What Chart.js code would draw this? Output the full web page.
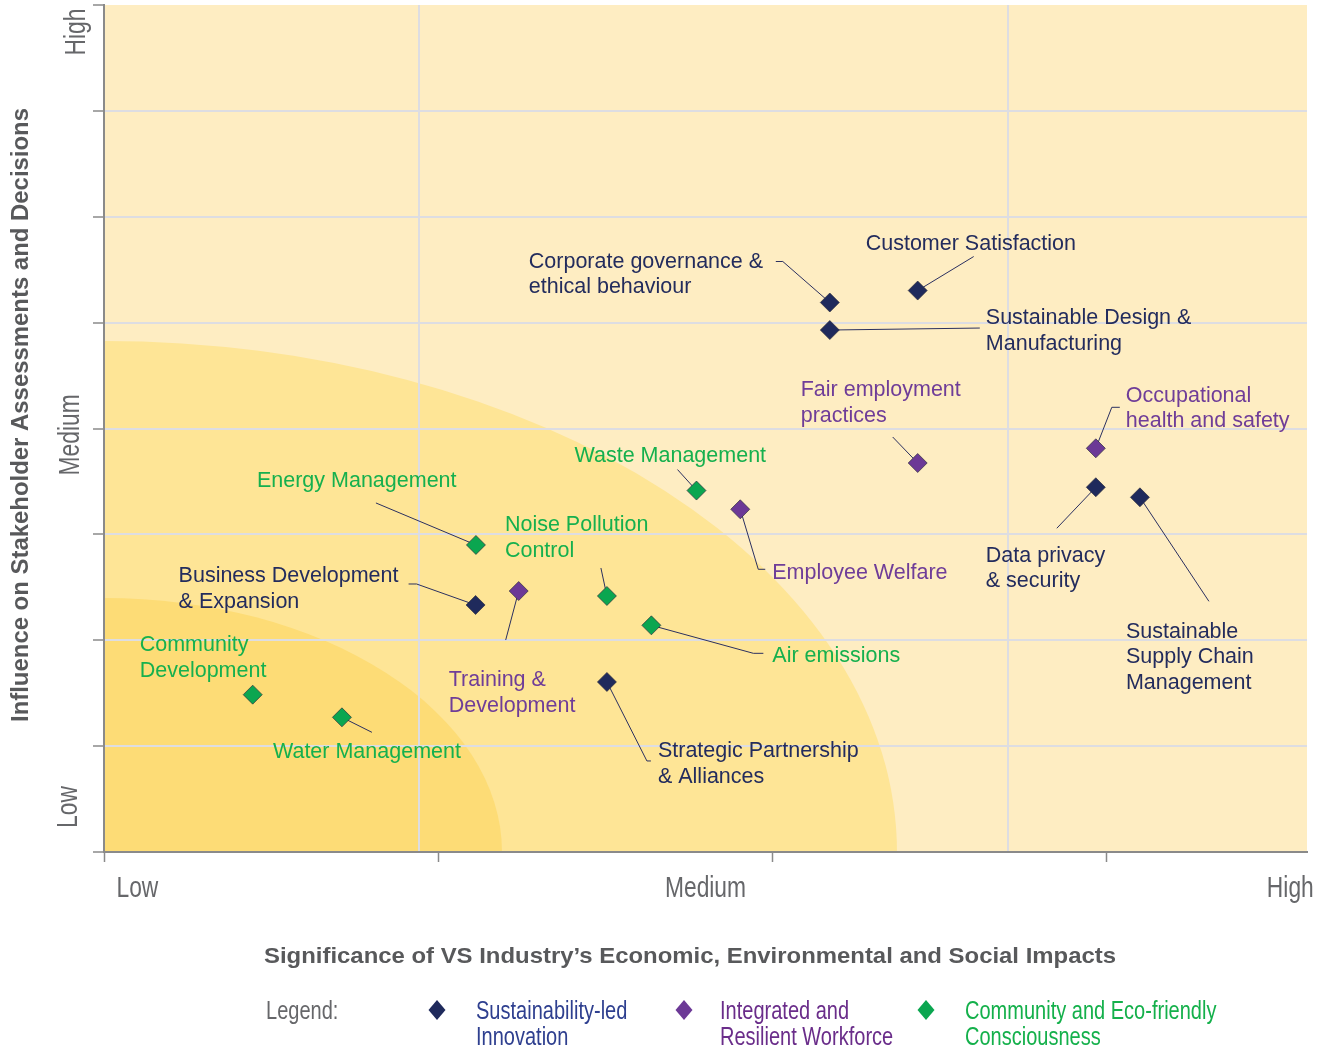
<!DOCTYPE html>
<html>
<head>
<meta charset="utf-8">
<script src="https://cdn.jsdelivr.net/npm/chart.js@4.4.1/dist/chart.umd.min.js"></script>
<style>
  html, body { margin: 0; padding: 0; background: #fff; }
  #wrap { width: 1323px; height: 1049px; position: relative; }
</style>
</head>
<body>
<div id="wrap"><canvas id="materiality"></canvas></div>
<script>
// --- data (x: significance 0..3.6, y: influence 0..8) ---
const innovationNames = ['Corporate governance &\nethical behaviour', 'Customer Satisfaction', 'Sustainable Design &\nManufacturing',
  'Data privacy\n& security', 'Sustainable\nSupply Chain\nManagement', 'Business Development\n& Expansion', 'Strategic Partnership\n& Alliances'];
const innovationX = [2.172, 2.435, 2.172, 2.968, 3.100, 1.112, 1.505];
const innovationY = [5.190, 5.303, 4.930, 3.445, 3.350, 2.333, 1.606];

const workforceNames = ['Fair employment\npractices', 'Occupational\nhealth and safety', 'Employee Welfare', 'Training &\nDevelopment'];
const workforceX = [2.435, 2.968, 1.904, 1.241];
const workforceY = [3.674, 3.813, 3.237, 2.465];

const communityNames = ['Waste Management', 'Energy Management', 'Noise Pollution\nControl', 'Air emissions', 'Community\nDevelopment', 'Water Management'];
const communityX = [1.773, 1.113, 1.505, 1.638, 0.445, 0.712];
const communityY = [3.414, 2.900, 2.418, 2.141, 1.486, 1.272];

const groupNames = ['Sustainability-led\nInnovation', 'Integrated and\nResilient Workforce', 'Community and Eco-friendly\nConsciousness'];
const tickLabels = ['Low', 'Medium', 'High'];
const xLabelValues = [0.1, 1.8, 3.55];
const yLabelValues = [0.425, 3.94, 7.745];
const xGridValues = [0.943, 2.705];
const zoneRadiusX = [2.373, 1.191];
const zoneRadiusY = [4.826, 2.399];

const xTitle = 'Significance of VS Industry\u2019s Economic, Environmental and Social Impacts';
const yTitle = 'Influence on Stakeholder Assessments and Decisions';

// --- styling ---
const markColors = ['#1f2a5c', '#6c3996', '#0ba650'];
const textColors = ['#232c5d', '#6f3d98', '#16b04e'];
const legendColors = ['#2e3f8f', '#6a2d8a', '#14b04b'];
const zoneColors = ['#feedc2', '#fee596', '#fddc76'];
const gridColor = '#dddde2';
const axisColor = '#8a8a8a';
const greyText = '#66676a';
const SANS = '"Liberation Sans", Arial, Helvetica, sans-serif';
const yLabelBaseX = [77, 79, 85];

// label placement relative to the point: text left / first line centre, leader polyline
const labelLayout = {
  'Corporate governance &\nethical behaviour': { dx: -301, dy: -42, leader: [[-47, -41], [-54, -41]] },
  'Customer Satisfaction': { dx: -52, dy: -48, leader: [[56, -34]] },
  'Sustainable Design &\nManufacturing': { dx: 156, dy: -13, leader: [[150, -2]] },
  'Data privacy\n& security': { dx: -110, dy: 67, leader: [[-39, 41]] },
  'Sustainable\nSupply Chain\nManagement': { dx: -14, dy: 133, leader: [[69, 104]] },
  'Business Development\n& Expansion': { dx: -297, dy: -30, leader: [[-59, -21], [-67, -21]] },
  'Strategic Partnership\n& Alliances': { dx: 51, dy: 68, leader: [[40, 79], [44, 79]] },
  'Fair employment\npractices': { dx: -117, dy: -74, leader: [[-25, -26]] },
  'Occupational\nhealth and safety': { dx: 30, dy: -54, leader: [[16, -41], [24, -41]] },
  'Employee Welfare': { dx: 32, dy: 62, leader: [[18, 60], [25, 60]] },
  'Training &\nDevelopment': { dx: -70, dy: 88, leader: [[-13, 49]] },
  'Waste Management': { dx: -122, dy: -36, leader: [[-19, -21]] },
  'Energy Management': { dx: -219, dy: -65, leader: [[-100, -42]] },
  'Noise Pollution\nControl': { dx: -102, dy: -72, leader: [[-6, -28]] },
  'Air emissions': { dx: 121, dy: 29, leader: [[102, 28], [112, 28]] },
  'Community\nDevelopment': { dx: -113, dy: -51, leader: [] },
  'Water Management': { dx: -69, dy: 33, leader: [[30, 15]] }
};

function toPoints(xs, ys) {
  return xs.map((v, i) => ({ x: v, y: ys[i] }));
}

const groups = [
  { names: innovationNames, pts: toPoints(innovationX, innovationY) },
  { names: workforceNames, pts: toPoints(workforceX, workforceY) },
  { names: communityNames, pts: toPoints(communityX, communityY) }
];

function squeezeText(ctx, text, x, y, font, color, align, sx, rot) {
  ctx.save();
  ctx.font = font;
  ctx.fillStyle = color;
  ctx.textAlign = align;
  ctx.textBaseline = 'alphabetic';
  ctx.translate(x, y);
  if (rot) ctx.rotate(rot);
  ctx.scale(sx, 1);
  ctx.fillText(text, 0, 0);
  ctx.restore();
}

function fitText(ctx, text, x, y, font, color, width, rot) {
  ctx.save();
  ctx.font = font;
  const sx = width / ctx.measureText(text).width;
  ctx.restore();
  squeezeText(ctx, text, x, y, font, color, 'center', sx, rot);
}

function diamond(ctx, x, y, w, h, color) {
  ctx.beginPath();
  ctx.moveTo(x, y - h);
  ctx.lineTo(x + w, y);
  ctx.lineTo(x, y + h);
  ctx.lineTo(x - w, y);
  ctx.closePath();
  ctx.fillStyle = color;
  ctx.fill();
}

const matrixPlugin = {
  id: 'matrix',
  beforeDraw(chart) {
    const { ctx, chartArea: a, scales: { x, y } } = chart;
    ctx.save();
    ctx.beginPath();
    ctx.rect(a.left, a.top, a.width, a.height);
    ctx.clip();
    ctx.fillStyle = zoneColors[0];
    ctx.fillRect(a.left, a.top, a.width, a.height);
    const x0 = x.getPixelForValue(0), y0 = y.getPixelForValue(0);
    zoneRadiusX.forEach((r, i) => {
      const rx = x.getPixelForValue(r) - x0;
      const ry = y0 - y.getPixelForValue(zoneRadiusY[i]);
      ctx.beginPath();
      ctx.moveTo(x0, y0);
      ctx.ellipse(x0, y0, rx, ry, 0, -Math.PI / 2, 0);
      ctx.closePath();
      ctx.fillStyle = zoneColors[i + 1];
      ctx.fill();
    });
    ctx.restore();
  },
  beforeDatasetsDraw(chart) {
    const { ctx } = chart;
    ctx.save();
    ctx.strokeStyle = '#2b3060';
    ctx.lineWidth = 1;
    groups.forEach((g, di) => {
      const meta = chart.getDatasetMeta(di);
      g.names.forEach((name, i) => {
        const lay = labelLayout[name];
        const el = meta.data[i];
        if (!lay || !lay.leader.length) return;
        ctx.beginPath();
        ctx.moveTo(el.x, el.y);
        lay.leader.forEach(p => ctx.lineTo(el.x + p[0], el.y + p[1]));
        ctx.stroke();
      });
    });
    ctx.restore();
  },
  afterDatasetsDraw(chart) {
    const { ctx } = chart;
    ctx.save();
    ctx.font = '21.5px ' + SANS;
    ctx.textAlign = 'left';
    ctx.textBaseline = 'middle';
    groups.forEach((g, di) => {
      const meta = chart.getDatasetMeta(di);
      ctx.fillStyle = textColors[di];
      g.names.forEach((name, i) => {
        const lay = labelLayout[name];
        const el = meta.data[i];
        name.split('\n').forEach((line, k) => {
          ctx.fillText(line, el.x + lay.dx, el.y + lay.dy + 1.5 + k * 25.5);
        });
      });
    });
    ctx.restore();
  },
  afterDraw(chart) {
    const { ctx, scales: { x, y } } = chart;
    const tickFont = '30px ' + SANS;
    tickLabels.forEach((t, i) => {
      squeezeText(ctx, t, x.getPixelForValue(xLabelValues[i]), 897, tickFont, greyText, 'center', 0.76);
      squeezeText(ctx, t, yLabelBaseX[i], y.getPixelForValue(yLabelValues[i]), tickFont, greyText, 'center', 0.76, -Math.PI / 2);
    });
    fitText(ctx, xTitle, 690, 963, 'bold 22px ' + SANS, '#58595b', 852);
    fitText(ctx, yTitle, 28, 415, 'bold 24px ' + SANS, '#58595b', 614, -Math.PI / 2);

    const legFont = '26px ' + SANS;
    squeezeText(ctx, 'Legend:', 266, 1019, legFont, greyText, 'left', 0.77);
    const markX = [437, 684, 926];
    const textX = [476, 720, 965];
    groupNames.forEach((gname, i) => {
      diamond(ctx, markX[i], 1010, 8.5, 10, markColors[i]);
      gname.split('\n').forEach((line, k) => {
        squeezeText(ctx, line, textX[i], 1019 + k * 26, legFont, legendColors[i], 'left', 0.77);
      });
    });
  }
};

const datasets = groups.map((g, i) => ({
  label: groupNames[i].replace('\n', ' '),
  data: g.pts,
  pointStyle: 'rectRot',
  pointRadius: 9.5,
  pointHoverRadius: 9.5,
  backgroundColor: markColors[i],
  borderColor: 'rgba(45,45,60,0.85)',
  borderWidth: 0.8
}));

new Chart(document.getElementById('materiality'), {
  type: 'scatter',
  data: { datasets: datasets },
  options: {
    responsive: true,
    maintainAspectRatio: false,
    animation: false,
    layout: { autoPadding: false, padding: { left: 93, top: 5, right: 16, bottom: 187 } },
    plugins: { legend: { display: false }, tooltip: { enabled: false } },
    scales: {
      x: {
        type: 'linear', position: 'bottom', min: 0, max: 3.6,
        ticks: { display: false, stepSize: 1, includeBounds: false },
        grid: { drawOnChartArea: false, tickLength: 10, tickColor: axisColor, tickWidth: 1.5 },
        border: { display: true, color: axisColor, width: 2 }
      },
      xg: {
        type: 'linear', position: 'top', min: 0, max: 3.6,
        afterBuildTicks: axis => { axis.ticks = xGridValues.map(v => ({ value: v })); },
        ticks: { display: false },
        grid: { drawTicks: false, color: gridColor, lineWidth: 2 },
        border: { display: false }
      },
      y: {
        type: 'linear', position: 'left', min: 0, max: 8,
        ticks: { display: false, stepSize: 1 },
        grid: {
          color: c => (c.tick && c.tick.value > 0 && c.tick.value < 8) ? gridColor : 'rgba(0,0,0,0)',
          lineWidth: 2, tickLength: 11, tickColor: axisColor, tickWidth: 1.5
        },
        border: { display: true, color: axisColor, width: 2 }
      }
    }
  },
  plugins: [matrixPlugin]
});
</script>
</body>
</html>
